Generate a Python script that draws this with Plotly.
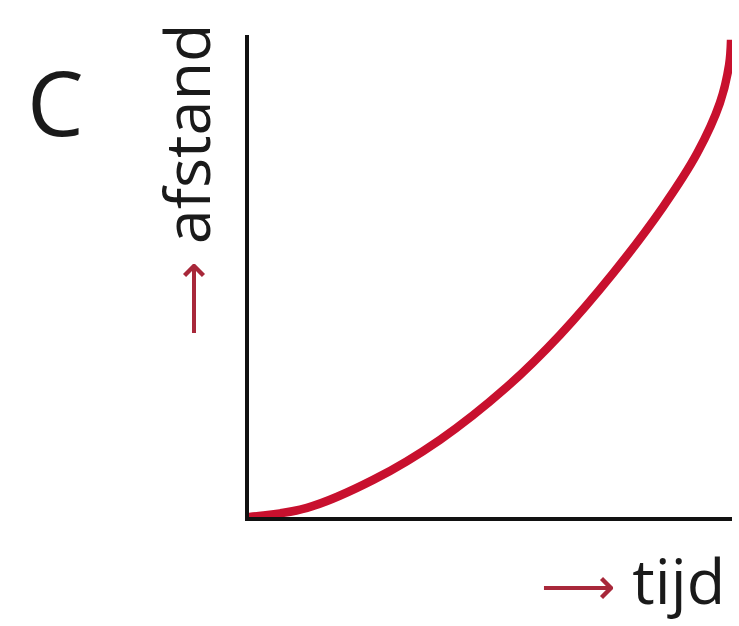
import plotly.graph_objects as go

# curve (tijd, afstand) in arbitrary units 0..10
tijd = [0.0, 1.20, 2.57, 3.95, 5.34, 6.44, 7.54, 8.57, 9.28, 9.75, 9.94, 9.98]
afstand = [0.0, 0.19, 0.77, 1.60, 2.70, 3.78, 5.06, 6.43, 7.55, 8.59, 9.38, 9.90]

label_panel = "C"
label_y = "afstand"
label_x = "tijd"

RED = "#c8102e"
ARROW = "#a8283a"
FONT = "Open Sans"

fig = go.Figure()
fig.add_trace(go.Scatter(
    x=tijd, y=afstand, mode="lines",
    line=dict(color=RED, width=8.5, shape="spline", smoothing=1.0),
    cliponaxis=False, hoverinfo="skip", showlegend=False,
))

axis_common = dict(showline=True, linecolor="#111111", linewidth=4, showgrid=False,
                   zeroline=False, showticklabels=False, ticks="", fixedrange=True)
fig.update_xaxes(range=[0, 10], **axis_common)
fig.update_yaxes(range=[0, 10], **axis_common)

fig.add_annotation(text=label_panel, xref="paper", yref="paper", x=-0.3996, y=0.863,
                   xanchor="center", yanchor="middle", showarrow=False,
                   font=dict(family=FONT, size=90, color="#1a1a1a"))
fig.add_annotation(text=f"<span style='color:{ARROW};font-size:52px'>⟶</span> {label_y}",
                   xref="paper", yref="paper", x=-0.1305, y=0.700, textangle=-90,
                   xanchor="center", yanchor="middle", showarrow=False,
                   font=dict(family=FONT, size=63, color="#1a1a1a"))
fig.add_annotation(text=f"<span style='color:{ARROW};font-size:52px'>⟶</span> {label_x}",
                   xref="paper", yref="paper", x=0.796, y=-0.129,
                   xanchor="center", yanchor="middle", showarrow=False,
                   font=dict(family=FONT, size=63, color="#1a1a1a"))

fig.update_layout(
    width=739, height=626,
    margin=dict(l=249, r=7, t=35, b=109),
    paper_bgcolor="white", plot_bgcolor="white",
)

fig.write_html("out.html", config={"displayModeBar": False},
               post_script="document.body.style.margin='0px';document.body.style.overflow='hidden';")
